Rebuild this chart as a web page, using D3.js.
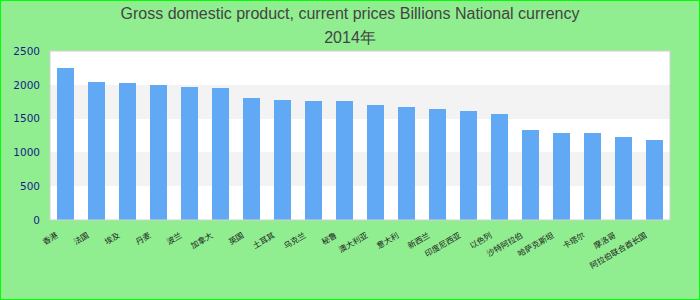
<!DOCTYPE html>
<meta charset="utf-8">
<style>
  body { margin: 0; background: #90ee90; }
  svg { display: block; }
  .ytick text { font: 10.5px "DejaVu Sans", sans-serif; fill: #1a1a8a; }
  .xlab { font: 8px "Noto Sans CJK SC", sans-serif; fill: #222; }
  .title { font: 16px "Liberation Sans", Arial, sans-serif; fill: #444; }
  .band, .bar { shape-rendering: crispEdges; }
</style>
<body></body>
<script src="https://d3js.org/d3.v7.min.js"></script>
<script>
  // data (labels render as boxes there, names are a best guess)
  var categories = ["香港", "法国", "埃及", "丹麦", "波兰", "加拿大", "英国", "土耳其", "乌克兰", "秘鲁",
    "澳大利亚", "意大利", "新西兰", "印度尼西亚", "以色列", "沙特阿拉伯", "哈萨克斯坦", "卡塔尔", "摩洛哥", "阿拉伯联合酋长国"];
  var values = [2248, 2041, 2027, 1997, 1967, 1953, 1805, 1775, 1760, 1760,
    1701, 1672, 1642, 1612, 1568, 1331, 1287, 1287, 1228, 1183];
  var yTicks = [0, 500, 1000, 1500, 2000, 2500];
  var titleLines = ["Gross domestic product, current prices Billions National currency", "2014年"];

  var W = 700, H = 300;
  var margin = { top: 51, right: 30, bottom: 80, left: 50 };
  var width = W - margin.left - margin.right,
    height = H - margin.top - margin.bottom;

  var svg = d3.select("body").append("svg")
    .attr("width", W)
    .attr("height", H);

  svg.append("rect")
    .attr("x", 0).attr("y", 0)
    .attr("width", W).attr("height", H)
    .attr("fill", "#90ee90")
    .attr("stroke", "#00ff00")
    .attr("stroke-width", 2);

  svg.selectAll(".title")
    .data(titleLines)
    .enter().append("text")
    .attr("class", "title")
    .attr("x", W / 2)
    .attr("y", function(d, i) { return 19 + i * 24; })
    .attr("text-anchor", "middle")
    .text(function(d) { return d; });

  var x = d3.scaleBand()
    .domain(categories)
    .range([0, width])
    .paddingInner(0.45)
    .paddingOuter(0.225);

  var y = d3.scaleLinear()
    .domain([0, 2500])
    .range([height, 0]);

  var g = svg.append("g")
    .attr("transform", "translate(" + margin.left + "," + margin.top + ")");

  // white background, then the gray bands
  g.append("rect")
    .attr("width", width)
    .attr("height", height)
    .attr("fill", "#ffffff");

  g.selectAll(".band")
    .data(d3.pairs(yTicks).filter(function(d, i) { return i % 2; }))
    .enter().append("rect")
    .attr("class", "band")
    .attr("x", 0)
    .attr("width", width)
    .attr("y", function(d) { return y(d[1]); })
    .attr("height", function(d) { return y(d[0]) - y(d[1]); })
    .attr("fill", "#f3f3f3");

  g.selectAll(".bar")
    .data(values)
    .enter().append("rect")
    .attr("class", "bar")
    .attr("x", function(d, i) { return x(categories[i]); })
    .attr("width", x.bandwidth())
    .attr("y", function(d) { return y(d); })
    .attr("height", function(d) { return height - y(d); })
    .attr("fill", "#62a9f5");

  g.append("rect")
    .attr("width", width)
    .attr("height", height)
    .attr("fill", "none")
    .attr("stroke", "#d0d0d0")
    .attr("stroke-width", 1);

  var yAxis = d3.axisLeft(y)
    .tickValues(yTicks)
    .tickFormat(d3.format("d"))
    .tickSize(0)
    .tickPadding(10);
  g.append("g")
    .attr("class", "ytick")
    .call(yAxis)
    .call(function(s) { s.select(".domain").remove(); });

  g.selectAll(".xlab")
    .data(categories)
    .enter().append("text")
    .attr("class", "xlab")
    .attr("text-anchor", "end")
    .attr("transform", function(d) {
      return "translate(" + (x(d) + x.bandwidth() / 2 - 7) + "," + (height + 17) + ") rotate(-30)";
    })
    .text(function(d) { return d; });
</script>
